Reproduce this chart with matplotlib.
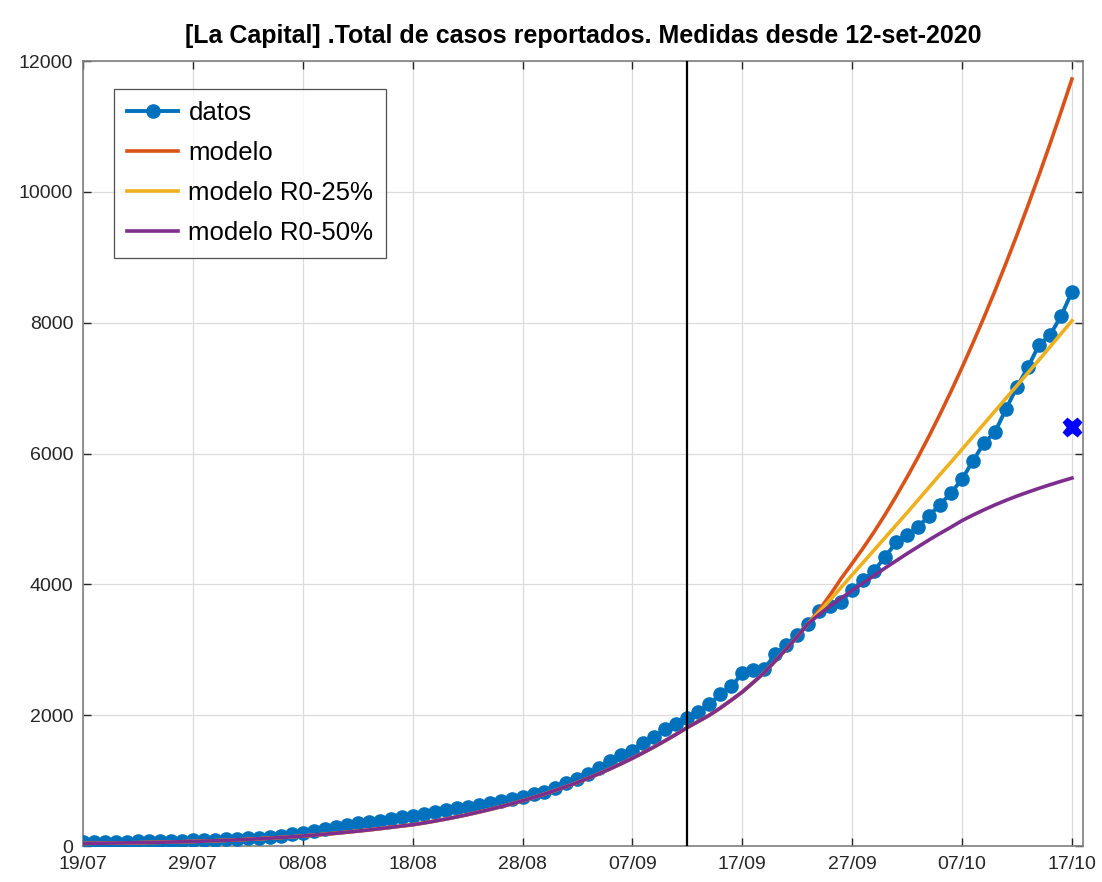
import numpy as np
import pandas as pd
import matplotlib
matplotlib.use("Agg")
import matplotlib.pyplot as plt

plt.rcParams['font.family'] = ['Liberation Sans', 'DejaVu Sans']

# daily dates, 19/07/2020 .. 17/10/2020
dates = pd.date_range("2020-07-19", "2020-10-17", freq="D")

datos = [
    60, 62, 64, 66, 68, 70, 72, 74, 78, 82,
    86, 90, 95, 100, 108, 115, 125, 140, 160, 180,
    205, 230, 260, 285, 320, 345, 365, 385, 410, 440,
    465, 490, 520, 545, 575, 600, 625, 655, 690, 720,
    750, 790, 830, 890, 960, 1030, 1100, 1200, 1300, 1390,
    1460, 1580, 1670, 1790, 1860, 1950, 2050, 2170, 2320, 2440,
    2640, 2690, 2710, 2930, 3070, 3230, 3400, 3590, 3670, 3730,
    3920, 4065, 4210, 4420, 4640, 4750, 4880, 5050, 5220, 5400,
    5610, 5890, 6160, 6330, 6680, 7020, 7320, 7660, 7810, 8100, 8470,
]

# common part of the three model curves (19/07 .. 24/09)
modelo_base = [
    40, 42, 44, 46, 48, 51, 54, 57, 61, 65,
    70, 75, 81, 87, 94, 102, 111, 120, 130, 141,
    153, 166, 180, 195, 211, 228, 246, 265, 285, 306,
    325, 352, 381, 412, 445, 480, 518, 558, 600, 645,
    692, 742, 795, 851, 910, 972, 1038, 1108, 1182, 1260,
    1342, 1428, 1518, 1612, 1710, 1812, 1905, 2000, 2110, 2230,
    2355, 2500, 2650, 2830, 3010, 3200, 3400,
]

# 25/09 .. 17/10
modelo_tail = [
    3610, 3840, 4090, 4320, 4555, 4804, 5068, 5348, 5640, 5946,
    6268, 6603, 6952, 7316, 7693, 8084, 8490, 8910, 9344, 9792,
    10255, 10731, 11221, 11725,
]
r25_tail = [
    3580, 3765, 3955, 4145, 4335, 4525, 4715, 4905, 5095, 5290,
    5485, 5680, 5870, 6065, 6260, 6455, 6650, 6845, 7040, 7235,
    7430, 7630, 7830, 8030,
]
r50_tail = [
    3540, 3670, 3790, 3905, 4020, 4135, 4250, 4360, 4470, 4575,
    4680, 4780, 4875, 4975, 5060, 5140, 5215, 5285, 5350, 5410,
    5468, 5523, 5575, 5625,
]

medidas = pd.Timestamp("2020-09-12")
punto_x = pd.Timestamp("2020-10-17")
punto_y = 6400

xtick_labels = ["19/07", "29/07", "08/08", "18/08", "28/08",
                "07/09", "17/09", "27/09", "07/10", "17/10"]
yticks = [0, 2000, 4000, 6000, 8000, 10000, 12000]

c_blue = "#0072BD"
c_orange = "#D95319"
c_yellow = "#EDB120"
c_purple = "#7E2F8E"

fig = plt.figure(figsize=(11.02, 8.82), dpi=100)
ax = fig.add_axes([0.0753, 0.0408, 0.9074, 0.890])

ax.plot(dates, datos, "-o", color=c_blue, lw=2.8, ms=9.5, label="datos", zorder=3)
ax.plot(dates, modelo_base + modelo_tail, color=c_orange, lw=2.6, label="modelo", zorder=4)
ax.plot(dates, modelo_base + r25_tail, color=c_yellow, lw=2.6, label="modelo R0-25%", zorder=5)
ax.plot(dates, modelo_base + r50_tail, color=c_purple, lw=2.6, label="modelo R0-50%", zorder=6)
ax.axvline(medidas, color="black", lw=1.6, zorder=7)
ax.plot([punto_x], [punto_y], marker="X", color="blue", ms=13, ls="none", zorder=8,
        clip_on=False)

ax.set_xlim(dates[0], dates[-1] + pd.Timedelta(days=1))
ax.set_ylim(0, 12000)
xticks = pd.date_range("2020-07-19", "2020-10-17", freq="10D")
ax.set_xticks(xticks)
ax.set_xticklabels(xtick_labels)
ax.set_yticks(yticks)

ax.grid(True, color="#dcdcdc", lw=0.9)
ax.set_axisbelow(True)
ax.tick_params(direction="in", top=True, right=True, length=6, width=1,
               labelsize=14, colors="#262626")
ax.tick_params(axis="x", pad=7)
ax.tick_params(axis="y", pad=7)
for s in ax.spines.values():
    s.set_color("#7f7f7f")
    s.set_linewidth(1.2)

ax.set_title("[La Capital] .Total de casos reportados. Medidas desde 12-set-2020",
             fontsize=18, fontweight="bold", pad=13)

leg = ax.legend(loc="upper left", bbox_to_anchor=(0.031, 0.965), fontsize=18.5,
                frameon=True, fancybox=False, edgecolor="#262626",
                handlelength=2.0, handletextpad=0.4, borderpad=0.5,
                labelspacing=0.62, borderaxespad=0)
leg.get_frame().set_linewidth(0.9)

fig.savefig("out.png", dpi=100)
